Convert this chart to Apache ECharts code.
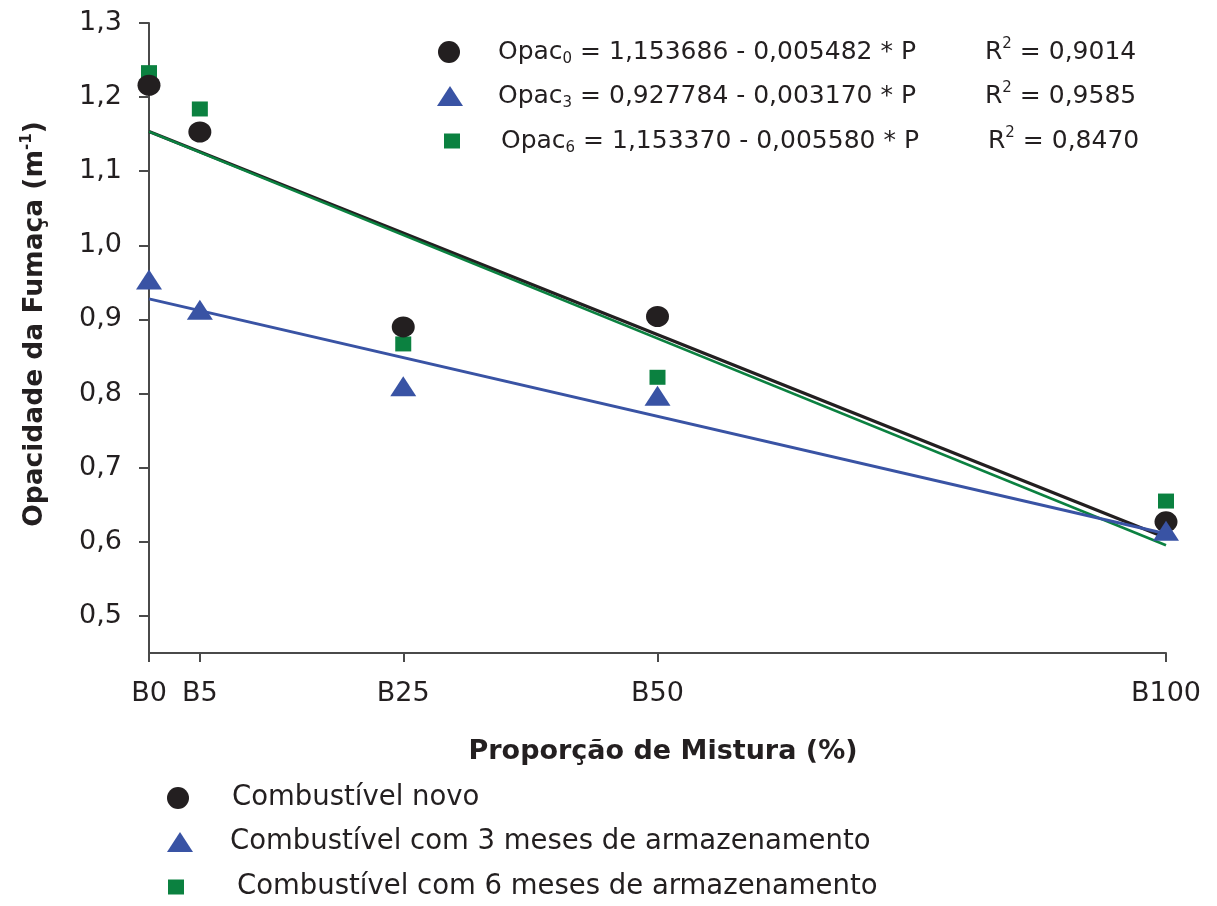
<!DOCTYPE html>
<html>
<head>
<meta charset="utf-8">
<script src="https://cdn.jsdelivr.net/npm/echarts@6/dist/echarts.min.js"></script>
<style>
html,body{margin:0;padding:0;background:#fff;}
#chart{width:1217px;height:906px;}
</style>
</head>
<body>
<div id="chart"></div>
<script>
// ---- data ----
const xTickValues = [0, 5, 25, 50, 100];
const xTickLabels = ['B0', 'B5', 'B25', 'B50', 'B100'];
const yTickValues = [0.5, 0.6, 0.7, 0.8, 0.9, 1.0, 1.1, 1.2, 1.3];

const seriesNames = ['Combustível novo', 'Combustível com 3 meses de armazenamento', 'Combustível com 6 meses de armazenamento'];
const novo   = [1.216, 1.153, 0.890, 0.904, 0.627];
const meses3 = [0.954, 0.913, 0.810, 0.797, 0.615];
const meses6 = [1.233, 1.184, 0.867, 0.822, 0.655];

// fitted lines (end points at P = 0 and P = 100)
const fitX    = [0, 100];
const fitNovo = [1.1537, 0.6055];
const fit3    = [0.9278, 0.6108];
const fit6    = [1.1534, 0.5954];

const eqSubs  = ['0', '3', '6'];
const eqRest  = [' = 1,153686 - 0,005482 * P', ' = 0,927784 - 0,003170 * P', ' = 1,153370 - 0,005580 * P'];
const r2Vals  = ['0,9014', '0,9585', '0,8470'];

// ---- styles ----
const BLACK = '#231f20', BLUE = '#3953a4', GREEN = '#0b8140';
const FONT = 'DejaVu Sans';
const zip = (xs, ys) => xs.map((x, i) => [x, ys[i]]);

const chart = echarts.init(document.getElementById('chart'));

function marker(kind, cx, cy) {
  if (kind === 'circle') return {type: 'circle', shape: {cx: cx, cy: cy, r: 11}, style: {fill: BLACK}};
  if (kind === 'triangle') return {type: 'polygon', shape: {points: [[cx - 13, cy + 10], [cx + 13, cy + 10], [cx, cy - 10]]}, style: {fill: BLUE}};
  return {type: 'rect', shape: {x: cx - 8, y: cy - 7.5, width: 16, height: 15}, style: {fill: GREEN}};
}
function richTxt(s, x, y, size, weight, extra) {
  const w = weight || 'normal';
  return Object.assign({type: 'text', x: x, y: y, style: {
    text: s, fill: BLACK, fontFamily: FONT, fontSize: size, fontWeight: w, align: 'left', verticalAlign: 'middle',
    rich: {
      m:   {fontFamily: FONT, fontSize: size, fontWeight: w, fill: BLACK, lineHeight: 30, verticalAlign: 'middle'},
      sub: {fontFamily: FONT, fontSize: 15, fontWeight: w, fill: BLACK, lineHeight: 15, verticalAlign: 'bottom'},
      sup: {fontFamily: FONT, fontSize: 15, fontWeight: w, fill: BLACK, lineHeight: 15, verticalAlign: 'top'}
    }}}, extra || {});
}

const kinds = ['circle', 'triangle', 'rect'];
const graphics = [];
// equation block
const eqRows = [52, 96, 141];
const eqMarkX = [449, 450, 452];
const eqTextX = [498, 498, 501];
const r2X = [985, 985, 988];
for (let i = 0; i < 3; i++) {
  graphics.push(marker(kinds[i], eqMarkX[i], eqRows[i]));
  graphics.push(richTxt('{m|Opac}{sub|' + eqSubs[i] + '}{m|' + eqRest[i] + '}', eqTextX[i], eqRows[i], 25));
  graphics.push(richTxt('{m|R}{sup|2}{m| = ' + r2Vals[i] + '}', r2X[i], eqRows[i], 25));
}
// bottom legend
const lgRows = [798, 842, 887];
const lgMarkX = [178, 180, 176];
const lgTextX = [232, 230, 237];
for (let i = 0; i < 3; i++) {
  graphics.push(marker(kinds[i], lgMarkX[i], lgRows[i]));
  graphics.push({type: 'text', x: lgTextX[i], y: lgRows[i], style: {text: seriesNames[i], fill: BLACK, fontFamily: FONT, fontSize: 27.5, align: 'left', verticalAlign: 'middle'}});
}
// y axis title
graphics.push(richTxt('{m|Opacidade da Fumaça (m}{sup|-1}{m|)}', 35, 324, 26.5, 'bold', {rotation: Math.PI / 2}));
graphics[graphics.length - 1].style.align = 'center';
// x axis title
graphics.push({type: 'text', x: 663, y: 752,
  style: {text: 'Proporção de Mistura (%)', fill: BLACK, fontFamily: FONT, fontSize: 27, fontWeight: 'bold', align: 'center', verticalAlign: 'middle'}});

const option = {
  backgroundColor: '#fff',
  animation: false,
  grid: {left: 149, top: 23, right: 51, bottom: 253, containLabel: false},
  xAxis: {
    type: 'value', min: 0, max: 100,
    splitLine: {show: false},
    axisLine: {show: true, lineStyle: {color: '#4a4a4a', width: 2}},
    axisTick: {show: true, length: 9, customValues: xTickValues, lineStyle: {color: '#4a4a4a', width: 2}},
    axisLabel: {customValues: xTickValues, margin: 27, color: BLACK, fontFamily: FONT, fontSize: 27,
      formatter: v => xTickLabels[xTickValues.indexOf(v)]}
  },
  yAxis: {
    type: 'value', min: 0.45, max: 1.3,
    splitLine: {show: false},
    axisLine: {show: true, onZero: false, lineStyle: {color: '#4a4a4a', width: 2}},
    axisTick: {show: true, length: 10, customValues: yTickValues, lineStyle: {color: '#4a4a4a', width: 2}},
    axisLabel: {customValues: yTickValues, margin: 27, color: BLACK, fontFamily: FONT, fontSize: 27,
      formatter: v => v.toFixed(1).replace('.', ',')}
  },
  series: [
    {name: 'fit0', type: 'line', data: zip(fitX, fitNovo), showSymbol: false, lineStyle: {color: BLACK, width: 3.2}, z: 2, silent: true},
    {name: 'fit6', type: 'line', data: zip(fitX, fit6), showSymbol: false, lineStyle: {color: GREEN, width: 2.6}, z: 3, silent: true},
    {name: 'fit3', type: 'line', data: zip(fitX, fit3), showSymbol: false, lineStyle: {color: BLUE, width: 3}, z: 4, silent: true},
    {name: seriesNames[2], type: 'scatter', data: zip(xTickValues, meses6), symbol: 'rect', symbolSize: [16, 15], itemStyle: {color: GREEN, opacity: 1}, z: 5},
    {name: seriesNames[0], type: 'scatter', data: zip(xTickValues, novo), symbol: 'circle', symbolSize: [23, 21], itemStyle: {color: BLACK, opacity: 1}, z: 6},
    {name: seriesNames[1], type: 'scatter', data: zip(xTickValues, meses3), symbol: 'triangle', symbolSize: [26, 20], itemStyle: {color: BLUE, opacity: 1}, z: 7}
  ],
  graphic: graphics
};
chart.setOption(option);
</script>
</body>
</html>
